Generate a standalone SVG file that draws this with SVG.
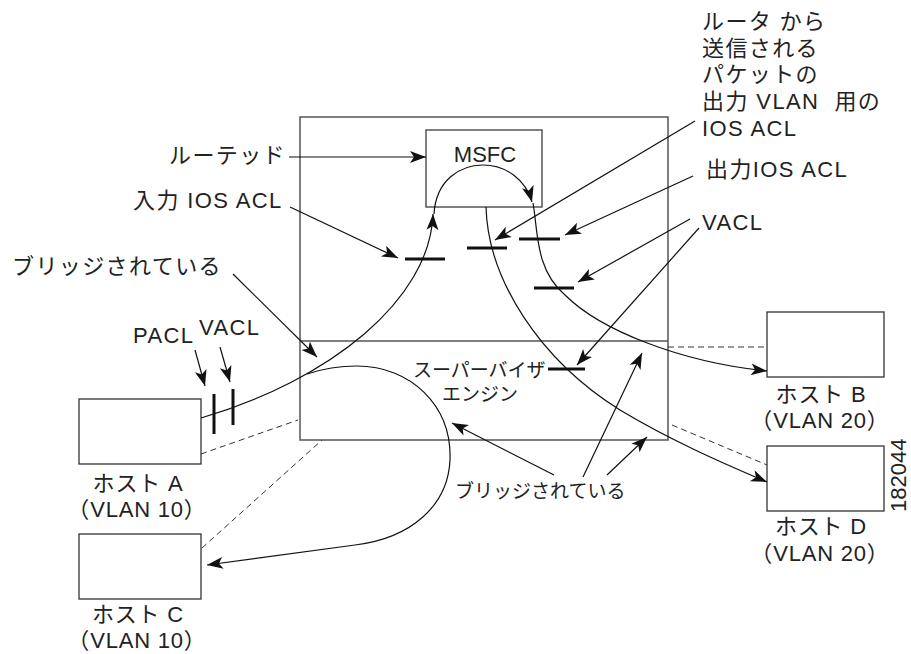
<svg xmlns="http://www.w3.org/2000/svg" width="911" height="654" viewBox="0 0 911 654">
<style>
.box{fill:none;stroke:#555;stroke-width:1.5}
.hbox{fill:#fff;stroke:#333;stroke-width:1.3}
.ar{fill:none;stroke:#111;stroke-width:1.2;marker-end:url(#ah)}
.bar{stroke:#111;stroke-width:3;fill:none}
.dash{fill:none;stroke:#333;stroke-width:1;stroke-dasharray:6,4}
text{font-family:"Liberation Sans","Noto Sans CJK JP",sans-serif;fill:#222;font-size:22px}
.w{letter-spacing:1.4px}
.h{letter-spacing:0.8px}
.m{font-size:19px}
</style>
<defs>
<marker id="ah" markerUnits="userSpaceOnUse" markerWidth="18" markerHeight="14" refX="16" refY="6" orient="auto">
<path d="M0,0 L16,6 L0,12 L4,6 Z" fill="#111"/>
</marker>
</defs>
<rect width="911" height="654" fill="#fff"/>

<g id="switch">
<rect class="box" x="300" y="117" width="368" height="323"/>
<line class="box" x1="300" y1="341" x2="668" y2="341"/>
<text class="m" x="413" y="377">スーパーバイザ</text>
<text class="m" x="442" y="401">エンジン</text>
</g>
<g id="msfc">
<rect class="box" x="426" y="130" width="116" height="77"/>
<text x="485" y="162" text-anchor="middle">MSFC</text>
</g>
<g id="hostA">
<rect class="hbox" x="79" y="399" width="122" height="65"/>
<text class="h" x="138" y="491" text-anchor="middle">ホスト A</text>
<text class="h" x="137" y="517" text-anchor="middle">（VLAN 10）</text>
</g>
<g id="hostC">
<rect class="hbox" x="79" y="534" width="122" height="65"/>
<text class="h" x="138" y="622" text-anchor="middle">ホスト C</text>
<text class="h" x="137" y="648" text-anchor="middle">（VLAN 10）</text>
</g>
<g id="hostB">
<rect class="hbox" x="767" y="312" width="117" height="65"/>
<text class="h" x="821" y="402" text-anchor="middle">ホスト B</text>
<text class="h" x="820" y="428" text-anchor="middle">（VLAN 20）</text>
</g>
<g id="hostD">
<rect class="hbox" x="767" y="446" width="117" height="65"/>
<text class="h" x="821" y="534" text-anchor="middle">ホスト D</text>
<text class="h" x="820" y="561" text-anchor="middle">（VLAN 20）</text>
</g>

<g id="labels">
<text class="w" x="702" y="29">ルータ から</text>
<text class="w" x="702" y="56">送信される</text>
<text class="w" x="702" y="82">パケットの</text>
<text class="w" x="702" y="109" xml:space="preserve">出力 VLAN  用の</text>
<text class="w" x="702" y="136">IOS ACL</text>
<text class="w" x="706" y="177">出力IOS ACL</text>
<text class="w" x="702" y="230">VACL</text>
<text class="w" x="286" y="163" text-anchor="end">ルーテッド</text>
<text class="w" x="133" y="208">入力 IOS ACL</text>
<text class="w" x="12" y="274">ブリッジされている</text>
<text class="w" x="133" y="343">PACL</text>
<text class="w" x="199" y="335">VACL</text>
<text class="m" x="455" y="498">ブリッジされている</text>
<text x="906" y="512" font-size="15" transform="rotate(-90 906 512)">182044</text>
</g>

<g id="connectors">
<line class="dash" x1="201" y1="454" x2="298" y2="420"/>
<line class="dash" x1="202" y1="548" x2="322" y2="440"/>
<line class="dash" x1="668" y1="347" x2="767" y2="347"/>
<line class="dash" x1="672" y1="425" x2="767" y2="465"/>

<path class="ar" d="M201,418 C330,380 430,300 433,214"/>
<path class="ar" d="M434,214 C436,180 460,165 483,165 C506,165 526,180 532,202"/>
<path class="ar" d="M533,203 C538,230 535,270 565,295 C600,330 680,362 767,371"/>
<path class="ar" d="M486,207 C488,280 540,360 620,410 C670,440 720,462 767,482"/>
<path class="ar" d="M307,374 C325,368 340,366 357,366 C410,366 452,405 450,460 C448,505 412,538 355,545 L207,565"/>

<line class="ar" x1="289" y1="157" x2="426" y2="157"/>
<line class="ar" x1="290" y1="207" x2="398" y2="258"/>
<line class="ar" x1="233" y1="274" x2="317" y2="357"/>
<line class="ar" x1="195" y1="350" x2="205" y2="386"/>
<line class="ar" x1="220" y1="347" x2="230" y2="382"/>
<line class="ar" x1="695" y1="121" x2="495" y2="240"/>
<line class="ar" x1="693" y1="176" x2="565" y2="235"/>
<line class="ar" x1="690" y1="219" x2="578" y2="282"/>
<line class="ar" x1="699" y1="228" x2="577" y2="365"/>
<line class="ar" x1="554" y1="475" x2="452" y2="423"/>
<line class="ar" x1="583" y1="477" x2="642" y2="353"/>
<line class="ar" x1="607" y1="475" x2="647" y2="437"/>

<line class="bar" x1="405" y1="259" x2="445" y2="259"/>
<line class="bar" x1="467" y1="248" x2="507" y2="248"/>
<line class="bar" x1="519" y1="239" x2="560" y2="239"/>
<line class="bar" x1="534" y1="288" x2="574" y2="288"/>
<line class="bar" x1="548" y1="369" x2="585" y2="369"/>
<line class="bar" x1="214" y1="394" x2="214" y2="434"/>
<line class="bar" x1="233" y1="389" x2="233" y2="425"/>
</g>
</svg>
